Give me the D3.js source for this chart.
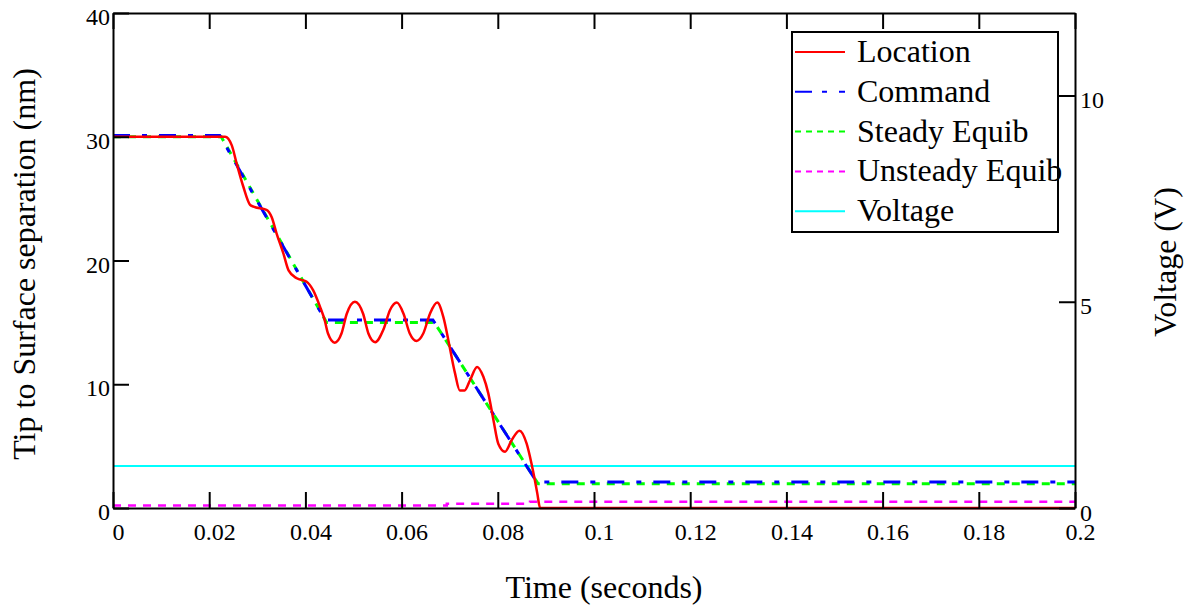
<!DOCTYPE html>
<html lang="en">
<head>
    <meta charset="UTF-8">
    <title>Tip to surface separation</title>
    <script src="https://cdn.jsdelivr.net/npm/d3@7"></script>
    <style>
        body { margin: 0; background: #fff; }
        text { font-family: "Liberation Serif", "Times New Roman", serif; fill: #000; }
    </style>
</head>
<body>
    <svg width="1191" height="611"></svg>
</body>
</html>
<script>
   // tick values
   var xTicks = [0, 0.02, 0.04, 0.06, 0.08, 0.1, 0.12, 0.14, 0.16, 0.18, 0.2];
   var yTicks = [0, 10, 20, 30, 40];
   var vTicks = [0, 5, 10];

   // Location (red)
   var locTime = [0, 0.0233, 0.0247, 0.0257, 0.0271, 0.0285, 0.0292, 0.0319, 0.033, 0.034, 0.0354,
       0.0365, 0.0382, 0.0402, 0.0416, 0.043, 0.044, 0.0447, 0.0461, 0.0475, 0.0486, 0.0503,
       0.052, 0.0531, 0.0545, 0.0562, 0.0576, 0.059, 0.0604, 0.0617, 0.0631, 0.0645, 0.0659,
       0.0674, 0.0687, 0.0697, 0.0704, 0.0711, 0.0721, 0.0731, 0.0742, 0.0757, 0.077, 0.078,
       0.0791, 0.0801, 0.0815, 0.0829, 0.0845, 0.086, 0.087, 0.0877, 0.0882, 0.0888, 0.2];
   var locNm = [30, 30, 29.3, 27.85, 25.96, 24.5, 24.35, 24.1, 23.5, 22.2, 20.6,
       19.2, 18.56, 18.3, 17.6, 16.3, 15.2, 14.1, 13.36, 14.1, 15.7, 16.67,
       15.7, 14.1, 13.4, 14.4, 16.0, 16.6, 15.7, 14.1, 13.5, 14.1, 15.7,
       16.6, 15.4, 13.6, 12.2, 10.9, 9.5, 9.5, 10.3, 11.4, 10.6, 9.3,
       7.1, 5.2, 4.55, 5.5, 6.25, 5.2, 3.6, 2.26, 1.2, 0, 0];

   // Command (blue)
   var cmdTime = [0, 0.0222, 0.0441, 0.0665, 0.0881, 0.2];
   var cmdNm = [30.1, 30.1, 15.2, 15.2, 2.1, 2.1];

   // Steady equilibrium (green)
   var steadyTime = [0, 0.0225, 0.0444, 0.0668, 0.0884, 0.2];
   var steadyNm = [30, 30, 15, 15, 1.95, 1.95];

   // Unsteady equilibrium (magenta), steps
   var unsteadyTime = [0, 0.0694, 0.0867, 0.2];
   var unsteadyNm = [0.2, 0.35, 0.5, 0.5];

   // Voltage (cyan), right axis
   var voltTime = [0, 0.2];
   var voltV = [1.02, 1.02];

   var legendNames = ['Location', 'Command', 'Steady Equib', 'Unsteady Equib', 'Voltage'];

   var pLeft = 113, pRight = 1075, pTop = 13, pBottom = 508;
   var svg = d3.select('svg');

   var x = d3.scaleLinear().domain([0, 0.2]).range([pLeft, pRight]);
   var y = d3.scaleLinear().domain([0, 40]).range([pBottom, pTop]);
   var v = d3.scaleLinear().domain([0, 12]).range([pBottom, pTop]);

   function zip(ts, vs){
   	return ts.map(function(t, i){ return [t, vs[i]]; });
   }

   var series = [
   	{ data: zip(voltTime, voltV), sc: v, color: '#00ffff', w: 2, dash: null, curve: d3.curveLinear },
   	{ data: zip(unsteadyTime, unsteadyNm), sc: y, color: '#ff00ff', w: 2.5, dash: '8,7', curve: d3.curveStepAfter },
   	{ data: zip(steadyTime, steadyNm), sc: y, color: '#00ff00', w: 3, dash: '8,7', curve: d3.curveLinear },
   	{ data: zip(cmdTime, cmdNm), sc: y, color: '#0000ff', w: 3, dash: '17,12,5,12', curve: d3.curveLinear },
   	{ data: zip(locTime, locNm), sc: y, color: '#ff0000', w: 2.5, dash: null, curve: d3.curveMonotoneX }
   ];

   series.forEach(function(s){
   	var line = d3.line()
   		.x(function(d){ return x(d[0]); })
   		.y(function(d){ return s.sc(d[1]); })
   		.curve(s.curve);
   	svg.append('path')
   		.datum(s.data)
   		.attr('d', line)
   		.attr('fill', 'none')
   		.attr('stroke', s.color)
   		.attr('stroke-width', s.w)
   		.attr('stroke-dasharray', s.dash);
   });

   // axes, ticks point inward
   function styleAxis(g){
   	g.select('.domain').attr('stroke', '#000').attr('stroke-width', 2);
   	g.selectAll('.tick line').attr('stroke', '#000').attr('stroke-width', 2);
   	g.attr('font-family', '"Liberation Serif", "Times New Roman", serif').attr('font-size', 24);
   }

   svg.append('g')
   	.attr('transform', 'translate(0,' + pBottom + ')')
   	.call(d3.axisBottom(x).tickValues(xTicks).tickSizeInner(-16).tickSizeOuter(0).tickPadding(15)
   		.tickFormat(function(d){ return d3.format('~g')(d); }))
   	.call(styleAxis)
   	.selectAll('text').attr('dx', 5);

   svg.append('g')
   	.attr('transform', 'translate(0,' + pTop + ')')
   	.call(d3.axisTop(x).tickValues(xTicks).tickSizeInner(-16).tickSizeOuter(0).tickFormat(''))
   	.call(styleAxis);

   svg.append('g')
   	.attr('transform', 'translate(' + pLeft + ',0)')
   	.call(d3.axisLeft(y).tickValues(yTicks).tickSizeInner(-16).tickSizeOuter(0).tickPadding(3))
   	.call(styleAxis)
   	.selectAll('text').attr('dy', '0.48em');

   svg.append('g')
   	.attr('transform', 'translate(' + pRight + ',0)')
   	.call(d3.axisRight(v).tickValues(vTicks).tickSizeInner(-16).tickSizeOuter(0).tickPadding(5))
   	.call(styleAxis)
   	.selectAll('text').attr('dy', '0.5em');

   // titles
   svg.append('text')
   	.attr('x', 604).attr('y', 598)
   	.attr('text-anchor', 'middle')
   	.style('font-size', '32px')
   	.text('Time (seconds)');

   svg.append('text')
   	.attr('transform', 'translate(35,264) rotate(-90)')
   	.attr('text-anchor', 'middle')
   	.style('font-size', '32px')
   	.text('Tip to Surface separation (nm)');

   svg.append('text')
   	.attr('transform', 'translate(1176,262) rotate(-90)')
   	.attr('text-anchor', 'middle')
   	.style('font-size', '32px')
   	.text('Voltage (V)');

   // legend
   var leg = svg.append('g');
   leg.append('rect')
   	.attr('x', 792).attr('y', 32)
   	.attr('width', 266).attr('height', 200)
   	.attr('fill', '#fff')
   	.attr('stroke', '#000')
   	.attr('stroke-width', 2);

   var legDash = [null, '17,10,5,12', '6,5', '6,5', null];
   var legColor = ['#ff0000', '#0000ff', '#00ff00', '#ff00ff', '#00ffff'];

   var rows = leg.selectAll('g.row')
   	.data(legendNames)
   	.enter().append('g')
   	.attr('class', 'row')
   	.attr('transform', function(d, i){ return 'translate(0,' + (52 + i * 39.8) + ')'; });

   rows.append('line')
   	.attr('x1', 795).attr('x2', 845)
   	.attr('stroke', function(d, i){ return legColor[i]; })
   	.attr('stroke-width', 2)
   	.attr('stroke-dasharray', function(d, i){ return legDash[i]; });

   rows.append('text')
   	.attr('x', 857).attr('y', 10)
   	.style('font-size', '32px')
   	.text(function(d){ return d; });
</script>
